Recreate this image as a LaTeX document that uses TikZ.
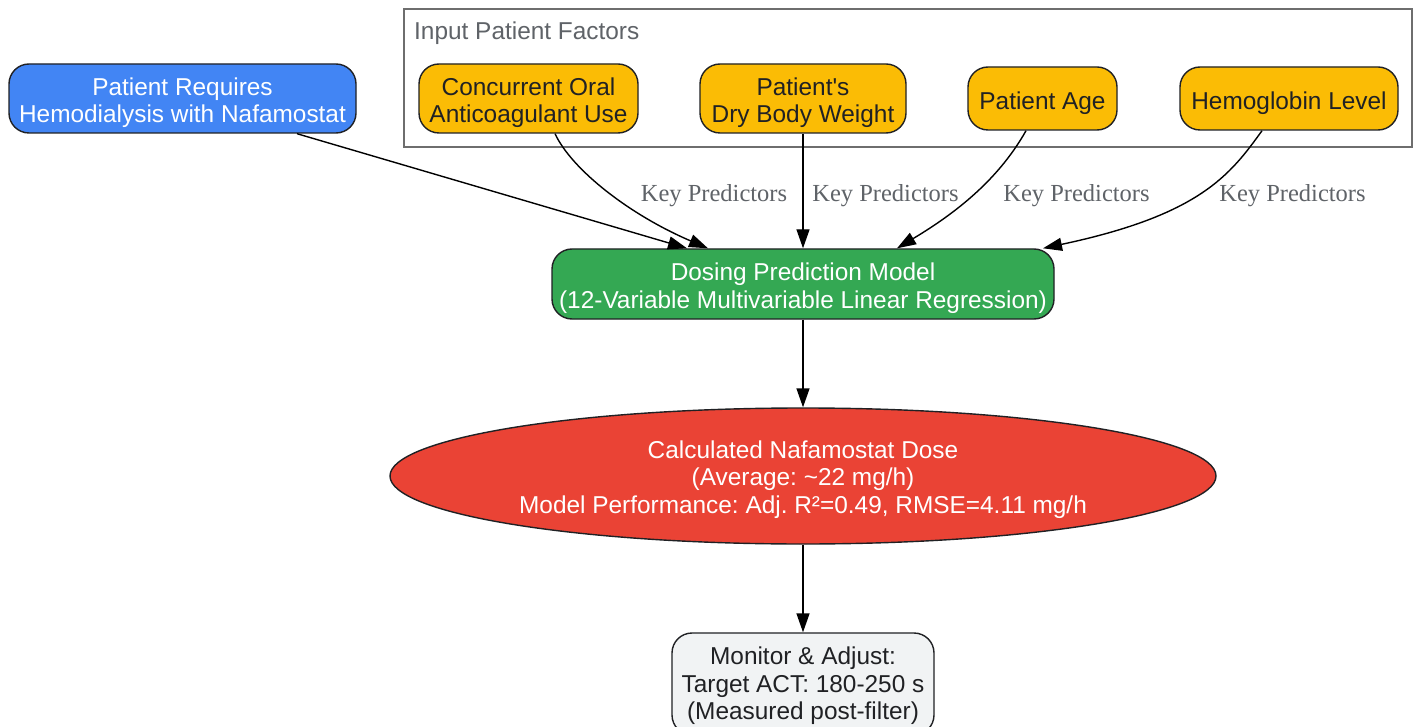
\documentclass[tikz,border=0pt]{standalone}
\usepackage{fontspec}
\setmainfont{Liberation Serif}
\setsansfont{Liberation Sans}
\usetikzlibrary{shapes.geometric,arrows.meta}
\definecolor{gblue}{HTML}{4285F4}
\definecolor{gorange}{HTML}{FBBC05}
\definecolor{ggreen}{HTML}{34A853}
\definecolor{gred}{HTML}{EA4335}
\definecolor{glight}{HTML}{F1F3F4}
\definecolor{gdark}{HTML}{202124}
\definecolor{ggray}{HTML}{5F6368}
\definecolor{gframe}{HTML}{6E6E6E}
\newcommand\lft[1]{\rule{0pt}{#1}}
\begin{document}
\frenchspacing
\begin{tikzpicture}[x=1pt,y=-1pt,
  box/.style={draw=gdark, line width=1.4pt, rounded corners=20pt, align=center, inner sep=0pt,
    font=\sffamily\frenchspacing\fontsize{24.4}{27.5}\selectfont},
  bluebox/.style={box, fill=gblue, text=white},
  orangebox/.style={box, fill=gorange, text=gdark},
  greenbox/.style={box, fill=ggreen, text=white},
  lightbox/.style={box, fill=glight, text=gdark},
  redell/.style={ellipse, draw=gdark, line width=1.4pt, fill=gred, text=white, align=center, inner sep=0pt,
    font=\sffamily\frenchspacing\fontsize{24.4}{27.5}\selectfont},
  lbl/.style={text=ggray, inner sep=0pt, font=\rmfamily\fontsize{24.5}{27.5}\selectfont},
  cluster/.style={draw=gframe, line width=1.6pt, inner sep=0pt},
  clusterlbl/.style={text=ggray, inner sep=0pt, anchor=west, font=\sffamily\fontsize{24.4}{27.5}\selectfont},
  edge/.style={draw=black, line width=1.4pt, -{Triangle[length=19pt,width=13pt]}}
]
\clip (0,0) rectangle (1415,727);
\fill[white] (0,0) rectangle (1415,727);

% cluster
\node[cluster, minimum width=1008pt, minimum height=138pt] (clu) at (908,78) {};
\node[clusterlbl] (clulbl) at (414,33) {Input Patient Factors};

% nodes
\node[bluebox, minimum width=347pt, minimum height=69pt] (blue) at (182.5,98.5) {\lft{26pt}Patient Requires\\Hemodialysis with Nafamostat};
\node[orangebox, minimum width=219pt, minimum height=69pt] (conc) at (528.5,98.5) {\lft{26pt}Concurrent Oral\\Anticoagulant Use};
\node[orangebox, minimum width=206pt, minimum height=69pt] (dry) at (803,98.5) {\lft{26pt}Patient\textquotesingle s\\Dry Body Weight};
\node[orangebox, minimum width=149pt, minimum height=63pt] (age) at (1042.5,98.5) {\lft{27pt}Patient Age};
\node[orangebox, minimum width=218pt, minimum height=63pt] (hemo) at (1289,98.5) {\lft{27pt}Hemoglobin Level};

\node[greenbox, minimum width=502pt, minimum height=70pt] (green) at (803,284) {\lft{26pt}Dosing Prediction Model\\(12-Variable Multivariable Linear Regression)};

\node[redell, minimum width=826pt, minimum height=136pt] (red) at (803,476) {\lft{24.5pt}Calculated Nafamostat Dose\\(Average: \textasciitilde22 mg/h)\\Model Performance: Adj. R²=0.49, RMSE=4.11 mg/h};

\node[lightbox, minimum width=262pt, minimum height=102pt] (mon) at (803,684) {\lft{21.5pt}Monitor \& Adjust:\\Target ACT: 180-250 s\\(Measured post-filter)};

% labels
\node[lbl] (l1) at (714,196) {Key Predictors};
\node[lbl] (l2) at (885.5,196) {Key Predictors};
\node[lbl] (l3) at (1076.5,196) {Key Predictors};
\node[lbl] (l4) at (1292.5,196) {Key Predictors};

% edges
\draw[edge] ([xshift=114.5pt]blue.south) -- ([xshift=-116pt]green.north);
\draw[edge] ([xshift=26.5pt]conc.south) .. controls (572,170) and (630,215) .. ([xshift=-95pt]green.north);
\draw[edge] (dry.south) -- (green.north);
\draw[edge] ([xshift=-16.5pt]age.south) .. controls (996,184) and (949,217) .. ([xshift=94pt]green.north);
\draw[edge] ([xshift=-27pt]hemo.south) .. controls (1230,175) and (1200,215) .. ([xshift=240pt]green.north);
\draw[edge] (green.south) -- (red.north);
\draw[edge] (red.south) -- (mon.north);
\end{tikzpicture}
\end{document}
